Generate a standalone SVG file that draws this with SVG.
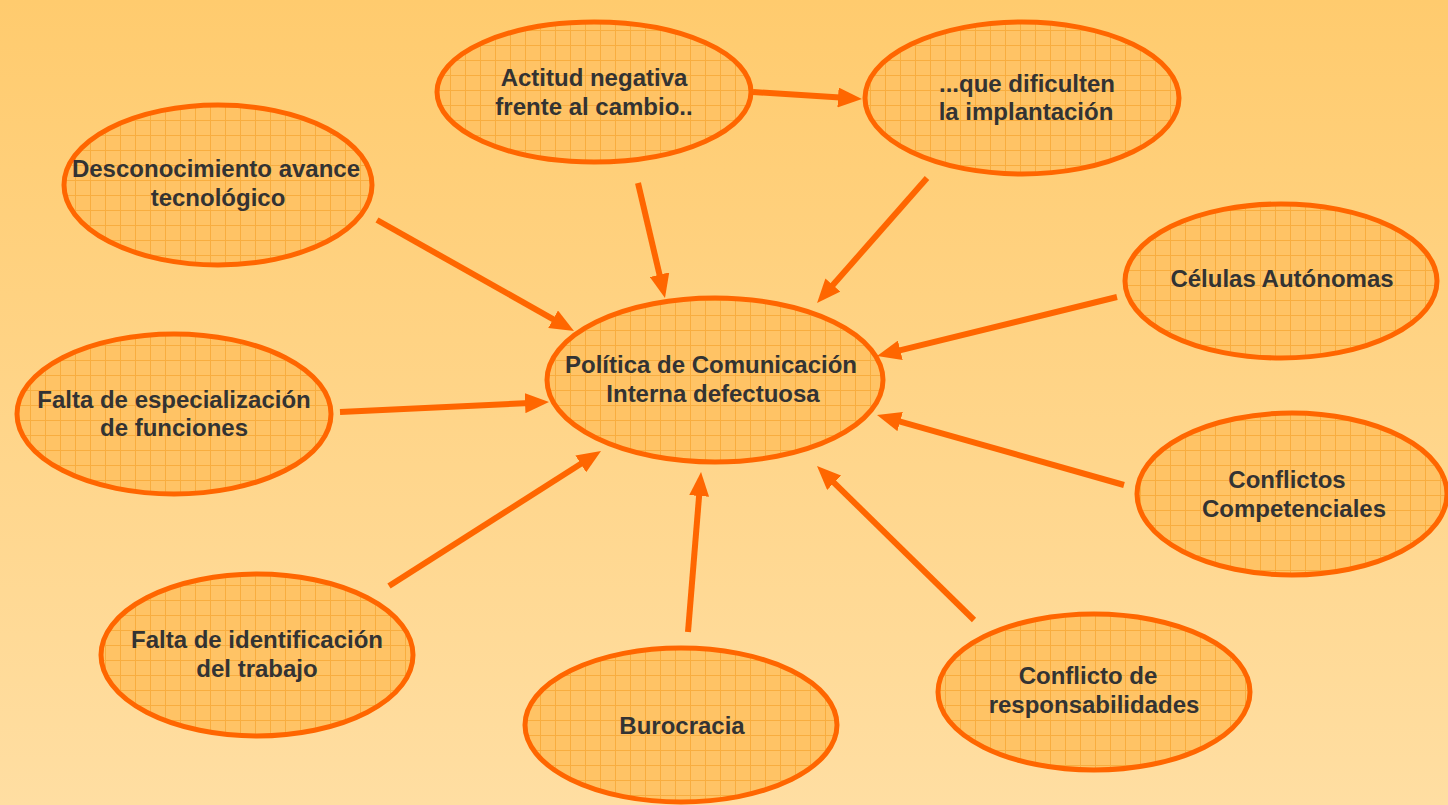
<svg xmlns="http://www.w3.org/2000/svg" width="1448" height="805" viewBox="0 0 1448 805">
<style>
.node ellipse{fill:url(#grid);stroke:#FF6600;stroke-width:5}
.node text{font-family:"Liberation Sans",Arial,sans-serif;font-weight:bold;font-size:24px;fill:#333333;text-anchor:middle}
#connectors line{stroke:#FF6600;stroke-width:6;marker-end:url(#arrow)}
</style>
<defs>
<linearGradient id="bg" x1="0" y1="0" x2="0" y2="1">
<stop offset="0" stop-color="#FFCB6E"/>
<stop offset="1" stop-color="#FFDEA2"/>
</linearGradient>
<pattern id="grid" patternUnits="userSpaceOnUse" width="15" height="15">
<rect width="15" height="15" fill="#FFC365"/>
<path d="M0,0.5H15M0.5,0V15" stroke="#F5A42E" stroke-width="1" opacity="0.7"/>
</pattern>
<marker id="arrow" markerUnits="userSpaceOnUse" markerWidth="24" markerHeight="20" refX="10" refY="10" orient="auto" viewBox="0 0 24 20">
<path d="M0,0 L24,10 L0,20 z" fill="#FF6600"/>
</marker>
</defs>
<rect width="1448" height="805" fill="url(#bg)"/>
<g id="connectors">
<line x1="753" y1="92" x2="848" y2="98.1"/>
<line x1="638" y1="183" x2="661.8" y2="284.4"/>
<line x1="927" y1="178" x2="826.3" y2="292.5"/>
<line x1="377" y1="220" x2="561.8" y2="324.1"/>
<line x1="1117" y1="297" x2="890.6" y2="352.7"/>
<line x1="340" y1="412" x2="535" y2="402.7"/>
<line x1="1124" y1="485" x2="890.5" y2="418.8"/>
<line x1="389" y1="586" x2="589.2" y2="458.5"/>
<line x1="688" y1="632" x2="699.9" y2="486"/>
<line x1="974" y1="620" x2="827" y2="475.8"/>
</g>
<g id="actitud" class="node">
<ellipse cx="594" cy="92" rx="157" ry="70"/>
<text x="594" y="86">Actitud negativa</text>
<text x="594" y="115">frente al cambio..</text>
</g>
<g id="dificulten" class="node">
<ellipse cx="1022" cy="98" rx="157" ry="76"/>
<text x="1027" y="92">...que dificulten</text>
<text x="1026" y="120">la implantación</text>
</g>
<g id="desconocimiento" class="node">
<ellipse cx="218" cy="185" rx="154" ry="80"/>
<text x="216" y="177">Desconocimiento avance</text>
<text x="218" y="206">tecnológico</text>
</g>
<g id="celulas" class="node">
<ellipse cx="1281" cy="281" rx="156" ry="77"/>
<text x="1282" y="287">Células Autónomas</text>
</g>
<g id="politica" class="node">
<ellipse cx="715" cy="380" rx="168" ry="82"/>
<text x="711" y="373">Política de Comunicación</text>
<text x="713" y="402">Interna defectuosa</text>
</g>
<g id="especializacion" class="node">
<ellipse cx="174" cy="414" rx="157" ry="80"/>
<text x="174" y="408">Falta de especialización</text>
<text x="174" y="436">de funciones</text>
</g>
<g id="competenciales" class="node">
<ellipse cx="1292" cy="494" rx="155" ry="81"/>
<text x="1287" y="488">Conflictos</text>
<text x="1294" y="517">Competenciales</text>
</g>
<g id="identificacion" class="node">
<ellipse cx="257" cy="655" rx="156" ry="81"/>
<text x="257" y="648">Falta de identificación</text>
<text x="257" y="677">del trabajo</text>
</g>
<g id="burocracia" class="node">
<ellipse cx="681" cy="725" rx="156" ry="77"/>
<text x="682" y="734">Burocracia</text>
</g>
<g id="responsabilidades" class="node">
<ellipse cx="1094" cy="692" rx="156" ry="78"/>
<text x="1088" y="684">Conflicto de</text>
<text x="1094" y="713">responsabilidades</text>
</g>
</svg>
